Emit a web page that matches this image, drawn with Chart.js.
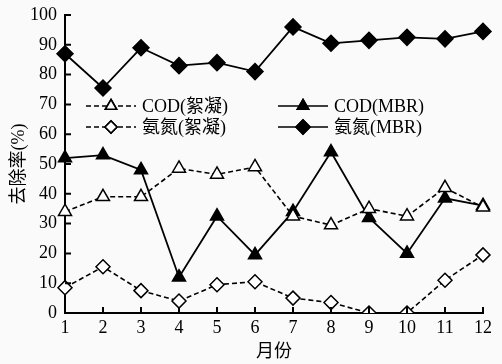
<!DOCTYPE html>
<html>
<head>
<meta charset="utf-8">
<script src="https://cdn.jsdelivr.net/npm/chart.js@4"></script>
<style>
  html, body { margin: 0; padding: 0; background: #fafafa; }
  #wrap { width: 502px; height: 364px; }
</style>
</head>
<body>
<div id="wrap"><canvas id="chart" width="502" height="364"></canvas></div>
<script>
// month labels and removal rates (%)
const months = ['1', '2', '3', '4', '5', '6', '7', '8', '9', '10', '11', '12'];
const codFloc = [34, 39, 39, 48.5, 46.5, 49, 32.5, 29.5, 35, 32.5, 42, 35.5];
const codMbr = [52, 53, 48, 12, 32.5, 19.5, 34, 54, 32, 20, 38.5, 36];
const nh3Floc = [8.5, 15.5, 7.5, 4, 9.5, 10.5, 5, 3.5, 0, 0, 11, 19.5];
const nh3Mbr = [87, 75.5, 89, 83, 84, 81, 96, 90.5, 91.5, 92.5, 92, 94.5];
const yTicks = [0, 10, 20, 30, 40, 50, 60, 70, 80, 90, 100];

const serif = "'Liberation Serif', 'Noto Sans CJK SC', serif";

// small tick marks pointing into the plot, like the original figure
const innerTicks = {
  id: 'innerTicks',
  afterDraw(chart) {
    const { ctx, chartArea, scales } = chart;
    ctx.save();
    ctx.strokeStyle = '#000';
    ctx.lineWidth = 2;
    ctx.beginPath();
    months.forEach((m, i) => {
      const x = scales.x.getPixelForValue(i);
      ctx.moveTo(x, chartArea.bottom);
      ctx.lineTo(x, chartArea.bottom - 6);
    });
    yTicks.forEach(v => {
      const y = scales.y.getPixelForValue(v);
      ctx.moveTo(chartArea.left, y);
      ctx.lineTo(chartArea.left + 6, y);
    });
    ctx.stroke();
    ctx.restore();
  }
};

// two-column legend inside the plot with line + marker samples
const insideLegend = {
  id: 'insideLegend',
  afterDraw(chart) {
    const { ctx } = chart;
    const spots = [
      { ds: 0, x: 86, y: 106 },
      { ds: 2, x: 86, y: 127 },
      { ds: 1, x: 278, y: 106 },
      { ds: 3, x: 278, y: 127 }
    ];
    ctx.save();
    spots.forEach(s => {
      const d = chart.data.datasets[s.ds];
      ctx.strokeStyle = '#000';
      ctx.lineWidth = 1.6;
      ctx.setLineDash(d.borderDash || []);
      ctx.beginPath();
      ctx.moveTo(s.x, s.y);
      ctx.lineTo(s.x + 50, s.y);
      ctx.stroke();
      ctx.setLineDash([]);
      Chart.helpers.drawPoint(ctx, {
        pointStyle: d.pointStyle,
        radius: d.pointRadius - 1,
        rotation: d.pointRotation || 0,
        borderWidth: d.pointBorderWidth
      }, s.x + 25, s.y);
      ctx.fillStyle = d.pointBackgroundColor;
      ctx.fill();
      ctx.stroke();
      ctx.fillStyle = '#000';
      ctx.font = "18px " + serif;
      ctx.textBaseline = 'middle';
      ctx.fillText(d.label, s.x + 56, s.y + 1);
    });
    ctx.restore();
  }
};

new Chart(document.getElementById('chart'), {
  type: 'line',
  data: {
    labels: months,
    datasets: [
      {
        label: 'COD(絮凝)', data: codFloc,
        borderColor: '#000', borderWidth: 1.6, borderDash: [5, 3],
        pointStyle: 'triangle', pointRadius: 7.5,
        pointBackgroundColor: '#fff', pointBorderColor: '#000', pointBorderWidth: 1.5
      },
      {
        label: 'COD(MBR)', data: codMbr,
        borderColor: '#000', borderWidth: 1.8,
        pointStyle: 'triangle', pointRadius: 7.5,
        pointBackgroundColor: '#000', pointBorderColor: '#000', pointBorderWidth: 1.5
      },
      {
        label: '氨氮(絮凝)', data: nh3Floc,
        borderColor: '#000', borderWidth: 1.6, borderDash: [5, 3],
        pointStyle: 'rectRot', pointRadius: 7,
        pointBackgroundColor: '#fff', pointBorderColor: '#000', pointBorderWidth: 1.5
      },
      {
        label: '氨氮(MBR)', data: nh3Mbr,
        borderColor: '#000', borderWidth: 1.8,
        pointStyle: 'rectRot', pointRadius: 8,
        pointBackgroundColor: '#000', pointBorderColor: '#000', pointBorderWidth: 1.5
      }
    ]
  },
  options: {
    responsive: false,
    animation: false,
    layout: { padding: { top: 15, right: 19, left: 0, bottom: 0 } },
    plugins: { legend: { display: false }, tooltip: { enabled: false } },
    scales: {
      x: {
        offset: false,
        grid: { display: false, drawTicks: false },
        border: { color: '#000', width: 2 },
        ticks: { color: '#000', font: { family: serif, size: 18 }, padding: 4, maxRotation: 0 },
        title: { display: true, text: '月份', color: '#000', font: { family: serif, size: 18 }, padding: { top: 0, bottom: 1 } },
        afterFit: s => { s.height = 51; }
      },
      y: {
        min: 0, max: 100,
        grid: { display: false, drawTicks: false },
        border: { color: '#000', width: 2 },
        ticks: { stepSize: 10, color: '#000', font: { family: serif, size: 18 }, padding: 8 },
        title: { display: true, text: '去除率(%)', color: '#000', font: { family: serif, size: 18 }, padding: { top: 8, bottom: 0 } },
        afterFit: s => { s.width = 65; s.paddingTop = 0; s.paddingBottom = 0; }
      }
    }
  },
  plugins: [innerTicks, insideLegend]
});
</script>
</body>
</html>
